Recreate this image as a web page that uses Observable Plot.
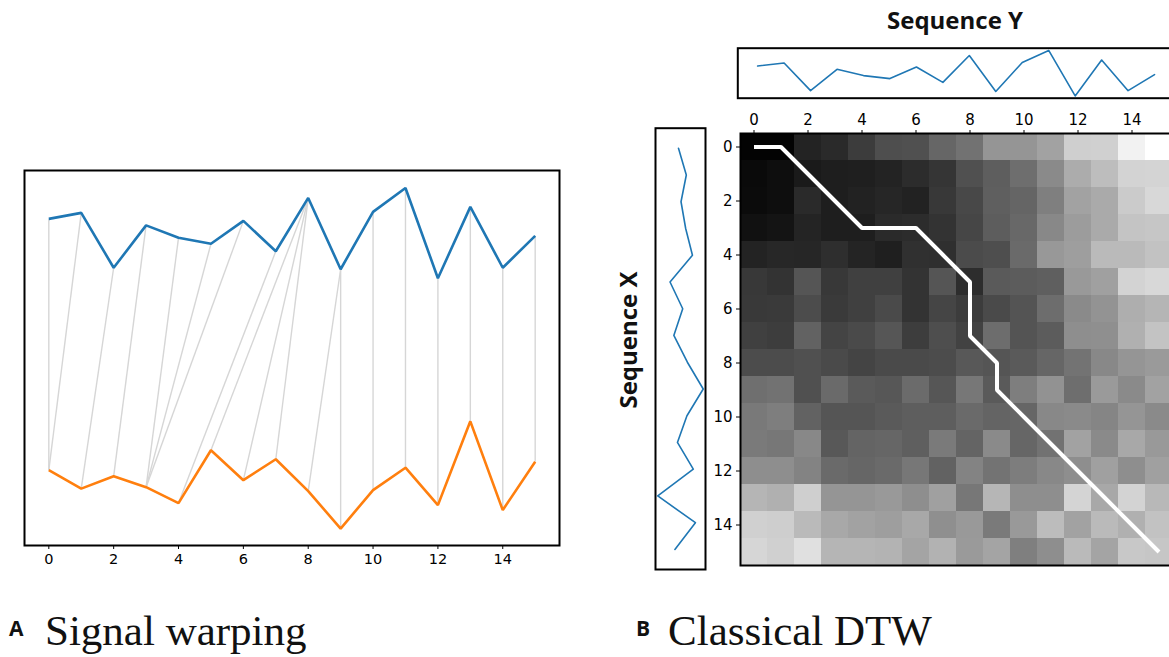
<!DOCTYPE html>
<html><head><meta charset="utf-8">
<script src="https://cdn.jsdelivr.net/npm/d3@7"></script>
<script src="https://cdn.jsdelivr.net/npm/@observablehq/plot@0.6"></script>
<style>
html,body{margin:0;padding:0;background:#fff;overflow:hidden;}
#root{position:relative;width:1169px;height:657px;overflow:hidden;background:#fff;}
.lbl{position:absolute;font-family:"Open Sans",sans-serif;font-weight:700;font-size:21px;line-height:21px;color:#111;white-space:nowrap;}
.cap{position:absolute;font-family:"Liberation Serif",serif;font-size:43px;line-height:43px;color:#111;white-space:nowrap;}
.title{position:absolute;font-family:"Open Sans",sans-serif;font-weight:700;font-size:24px;line-height:24px;color:#111;white-space:nowrap;}
</style></head><body><div id="root"></div>
<script>
// ---- data ----
const indices = [0,1,2,3,4,5,6,7,8,9,10,11,12,13,14,15];
const seqX = [0.19,-0.18,0.07,-0.15,-0.47,0.59,-0.01,0.41,-0.23,-0.98,-0.21,0.24,-0.51,1.17,-0.61,0.36];
const seqY = [0.43,0.55,-0.55,0.30,0.05,-0.07,0.39,-0.22,0.85,-0.58,0.57,1.05,-0.76,0.67,-0.55,0.09];
const offsetY = 4.8; // vertical shift of sequence Y in panel A
// warping path: pairs (index in X, index in Y)
const pathX = [0,0,1,2,3,3,3,4,5,6,7,8,9,10,11,12,13,14,15];
const pathY = [0,1,2,3,4,5,6,7,8,8,8,9,9,10,11,12,13,14,15];
const tickValues = [0,2,4,6,8,10,12,14];
// accumulated-cost matrix (grey level per cell), rows = X index, cols = Y index
const costRows = [
 [3,3,35,42,60,78,80,102,114,149,149,162,207,208,242,255],
 [10,14,26,30,31,35,44,53,80,94,110,138,172,189,211,212],
 [11,14,42,30,34,38,34,56,72,95,101,127,162,170,203,216],
 [17,20,36,30,30,42,44,51,70,93,104,136,156,170,196,198],
 [35,39,38,46,36,31,48,47,75,78,106,152,158,186,186,194],
 [56,51,85,56,64,64,51,85,45,90,92,95,153,160,211,216],
 [57,58,76,58,64,74,51,69,60,74,84,109,138,147,174,181],
 [64,61,98,68,74,86,61,78,66,109,84,92,142,143,176,195],
 [76,76,80,74,68,74,74,76,88,85,90,102,115,136,149,154],
 [111,114,80,106,90,87,107,86,119,90,126,146,110,154,138,162],
 [121,126,98,85,85,90,94,94,106,100,102,136,138,133,149,138],
 [122,119,136,88,100,102,95,122,100,138,102,114,162,138,168,153],
 [142,142,131,106,102,106,119,98,131,115,125,136,142,160,142,160],
 [181,176,207,149,149,153,142,160,119,182,142,142,212,168,211,184],
 [208,206,186,168,162,158,168,143,153,122,153,188,162,186,176,194],
 [214,208,224,181,181,179,164,178,154,164,127,142,186,164,200,198]
];
const titles = {a: "Signal warping", b: "Classical DTW", x: "Sequence X", y: "Sequence Y"};

// ---- derived tables ----
const xRows = indices.map(i => ({i, v: seqX[i]}));
const yRows = indices.map(i => ({i, v: seqY[i]}));
const yShift = indices.map(i => ({i, v: seqY[i] + offsetY}));
const pathRows = pathX.map((px, k) => ({i: px, j: pathY[k]}));
const cells = costRows.flatMap((row, i) => row.map((c, j) => ({i, j, c})));

const BLUE = "#1f77b4", ORANGE = "#ff7f0e";
const root = document.getElementById("root");
function place(el, left, top) { el.style.position = "absolute"; el.style.left = left + "px"; el.style.top = top + "px"; root.appendChild(el); }
const baseStyle = {background: "transparent", overflow: "visible", fontFamily: "DejaVu Sans, sans-serif", color: "#000"};

// ---- Panel A ----
const pA = Plot.plot({
  width: 580, height: 430,
  marginLeft: 24, marginRight: 21, marginTop: 20, marginBottom: 35,
  style: {...baseStyle, fontSize: "14.5px"},
  x: {domain: [-0.75, 15.75], axis: null},
  y: {domain: [-1.32, 6.2], axis: null},
  marks: [
    Plot.link(pathRows, {x1: d => d.j, y1: d => seqY[d.j] + offsetY, x2: d => d.i, y2: d => seqX[d.i], stroke: "#d6d6d6", strokeWidth: 1.4}),
    Plot.line(yShift, {x: "i", y: "v", stroke: BLUE, strokeWidth: 2.6, strokeLinejoin: "miter", strokeLinecap: "butt"}),
    Plot.line(xRows, {x: "i", y: "v", stroke: ORANGE, strokeWidth: 2.6, strokeLinejoin: "miter", strokeLinecap: "butt"}),
    Plot.axisX({ticks: tickValues, tickSize: 4, tickPadding: 4, fontSize: 14.5, label: null, stroke: "#000"}),
    Plot.frame({stroke: "#000", strokeWidth: 2})
  ]
});
place(pA, 0, 150);

// ---- Panel B: top sequence Y ----
const pTop = Plot.plot({
  width: 480, height: 70,
  marginLeft: 37.3, marginRight: 6.1, marginTop: 7.7, marginBottom: 12.3,
  style: baseStyle,
  x: {domain: [-0.75, 15.75], axis: null},
  y: {domain: [-0.85, 1.14], axis: null},
  marks: [
    Plot.line(yRows, {x: "i", y: "v", stroke: BLUE, strokeWidth: 1.6}),
    Plot.frame({stroke: "#000", strokeWidth: 2})
  ]
});
place(pTop, 700, 40);

// ---- Panel B: left sequence X (rotated) ----
const pLeft = Plot.plot({
  width: 80, height: 460,
  marginLeft: 15, marginRight: 15, marginTop: 7.7, marginBottom: 11,
  style: baseStyle,
  x: {domain: [1.2775, -1.0875], axis: null},
  y: {domain: [-0.75, 15.75], reverse: true, axis: null},
  marks: [
    Plot.line(xRows, {x: "v", y: "i", stroke: BLUE, strokeWidth: 1.6, sort: null}),
    Plot.frame({stroke: "#000", strokeWidth: 2})
  ]
});
place(pLeft, 640, 120);

// ---- Panel B: cost matrix ----
const pHeat = Plot.plot({
  width: 460, height: 480,
  marginLeft: 20, marginRight: 8, marginTop: 33, marginBottom: 15,
  style: {...baseStyle, fontSize: "15px"},
  x: {domain: [-0.5, 15.5], axis: null},
  y: {domain: [-0.5, 15.5], reverse: true, axis: null},
  color: {type: "linear", domain: [0, 255], range: ["#000000", "#ffffff"]},
  marks: [
    Plot.rect(cells, {x1: d => d.j - 0.5, x2: d => d.j + 0.5, y1: d => d.i - 0.5, y2: d => d.i + 0.5, fill: "c", shapeRendering: "crispEdges"}),
    Plot.line(pathRows, {x: "j", y: "i", stroke: "#fff", strokeWidth: 4, strokeLinejoin: "miter", strokeLinecap: "butt"}),
    Plot.axisX({anchor: "top", ticks: tickValues, tickSize: 4, tickPadding: 5, fontSize: 15, label: null}),
    Plot.axisY({anchor: "left", ticks: tickValues, tickSize: 4, tickPadding: 4, fontSize: 15, label: null}),
    Plot.frame({stroke: "#000", strokeWidth: 2})
  ]
});
place(pHeat, 720, 100);

// ---- text ----
function addText(cls, txt, left, top, extra) {
  const d = document.createElement("div"); d.className = cls; d.textContent = txt;
  d.style.left = left + "px"; d.style.top = top + "px";
  if (extra) Object.assign(d.style, extra);
  root.appendChild(d); return d;
}
addText("title", titles.y, 955, 8, {transform: "translateX(-50%)"});
addText("title", titles.x, 628, 340, {transform: "translate(-50%,-50%) rotate(-90deg)"});
addText("lbl", "A", 9, 618);
addText("cap", titles.a, 45, 609);
addText("lbl", "B", 636, 618);
addText("cap", titles.b, 668, 609);
</script></body></html>
